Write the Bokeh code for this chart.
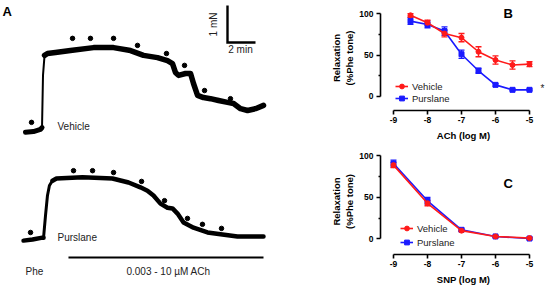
import math
from bokeh.plotting import figure
from bokeh.layouts import row, column
from bokeh.models import (Range1d, FixedTicker, Whisker, TeeHead, ColumnDataSource,
                          Label, Legend, LegendItem)
from bokeh.embed import file_html
from bokeh.resources import INLINE

FONT = "Liberation Sans"

# ---------------- Panel A: isometric tension traces (time in min, force in mN rel. to baseline)
veh_t = [0.0, 0.57, 1.07, 1.18, 1.25, 1.36, 1.57, 2.14, 3.21, 4.86, 6.29, 7.5, 8.43, 9.43,
         10.14, 10.5, 10.71, 10.93, 11.43, 11.79, 12.0, 12.29, 12.71, 13.21, 13.79, 14.43,
         14.86, 15.36, 15.86, 16.43, 17.0]
veh_f = [-0.05, -0.03, 0.03, 0.08, 1.49, 2.03, 2.08, 2.11, 2.16, 2.24, 2.24, 2.16, 2.03, 1.97,
         1.89, 1.81, 1.57, 1.49, 1.54, 1.54, 1.27, 0.95, 0.89, 0.86, 0.81, 0.76,
         0.73, 0.59, 0.54, 0.59, 0.68]
veh_dot_t = [0.43, 3.36, 4.64, 6.29, 8.0, 10.07, 11.36, 12.79, 14.64]
veh_dot_f = [0.22, 2.49, 2.49, 2.49, 2.30, 2.08, 1.76, 1.08, 0.86]

pur_t = [-0.14, 0.5, 1.21, 1.29, 1.43, 1.57, 1.71, 1.93, 2.21, 4.07, 6.21, 7.36, 8.21, 8.71,
         9.14, 9.64, 10.14, 10.5, 10.86, 11.29, 12.0, 13.0, 13.93, 15.14, 17.0]
pur_f = [-0.03, 0.0, 0.05, 0.05, 0.65, 1.19, 1.46, 1.59, 1.65, 1.68, 1.65, 1.54, 1.41, 1.32,
         1.19, 0.97, 0.86, 0.84, 0.70, 0.46, 0.32, 0.19, 0.14, 0.08, 0.08]
pur_dot_t = [0.36, 3.43, 4.79, 6.29, 8.29, 9.93, 11.57, 12.64, 14.0]
pur_dot_f = [0.19, 1.86, 1.86, 1.81, 1.57, 1.05, 0.57, 0.41, 0.30]

scale_min = 2.0   # time scale bar (min)
scale_mn = 1.0    # force scale bar (mN)
ach_start_t = 3.07
ach_end_t = 17.0

# ---------------- Panel B: ACh concentration-response
ach_x = [-8.5, -8.0, -7.5, -7.0, -6.5, -6.0, -5.5, -5.0]
ach_veh = [98, 89, 76, 71, 54, 44, 38, 39]
ach_veh_err = [2, 3, 4, 5, 6, 5, 5, 3]
ach_pur = [91, 87, 79, 51, 31, 14, 8, 8]
ach_pur_err = [4, 4, 5, 5, 3, 1.5, 1, 1]

# ---------------- Panel C: SNP concentration-response
snp_x = [-9.0, -8.0, -7.0, -6.0, -5.0]
snp_veh = [89, 43, 10, 3, 1]
snp_veh_err = [3, 3, 1, 1, 1]
snp_pur = [91, 46, 11, 3, 0.5]
snp_pur_err = [4, 4, 1.5, 1, 1]

x_ticks = [-9, -8, -7, -6, -5]
y_ticks = [0, 50, 100]
y_minor = [25, 75]

RED = "#ff1a1a"
BLUE = "#1a1aff"

# ================= Panel A figure =================
PXM = 14.0   # px per minute
PXN = 37.0   # px per mN
HA = 287
pa = figure(width=280, height=HA, x_range=Range1d(0, 280 / PXM), y_range=Range1d(0, HA / PXN),
            toolbar_location=None, output_backend="svg", min_border=0)
pa.axis.visible = False
pa.grid.visible = False
pa.outline_line_color = None


def ax(xp):
    return xp / PXM


def ay(yp):
    return (HA - yp) / PXN


veh_x0, veh_y0 = ax(25), ay(130)
pur_x0, pur_y0 = ax(25), ay(239)


def trace(t, f, x0, y0, segs):
    xs = [x0 + v for v in t]
    ys = [y0 + v for v in f]
    for a, b, w in segs:
        pa.line(xs[a:b], ys[a:b], line_width=w, color="black", line_join="round",
                line_cap="round")


# baseline (thick), fast rise (thin), contraction / relaxation (thick)
trace(veh_t, veh_f, veh_x0, veh_y0, [(0, 4, 5.0), (3, 6, 2.0), (5, len(veh_t), 5.5)])
trace(pur_t, pur_f, pur_x0, pur_y0, [(0, 4, 4.5), (3, 8, 3.0), (7, len(pur_t), 4.5)])
pa.scatter([veh_x0 + t for t in veh_dot_t], [veh_y0 + f for f in veh_dot_f], size=4.5,
           color="black")
pa.scatter([pur_x0 + t for t in pur_dot_t], [pur_y0 + f for f in pur_dot_f], size=4.5,
           color="black")

# scale bar
sx0, sy0 = ax(227), ay(42)
pa.line([sx0, sx0, sx0 + scale_min], [sy0 + scale_mn, sy0, sy0], line_width=2.4,
        color="black", line_join="miter")
# ACh bar
pa.line([veh_x0 + ach_start_t, veh_x0 + ach_end_t], [ay(257), ay(257)], line_width=2.2,
        color="black")

txt = dict(text_font=FONT, text_color="#222222", text_font_size="10px", text_baseline="middle")
pa.add_layout(Label(x=ax(57), y=ay(126), text="Vehicle", **txt))
pa.add_layout(Label(x=ax(57), y=ay(237), text="Purslane", **txt))
pa.add_layout(Label(x=ax(25), y=ay(271), text="Phe", **txt))
pa.add_layout(Label(x=ax(168), y=ay(271), text="0.003 - 10 \u00b5M ACh", text_align="center", **txt))
pa.add_layout(Label(x=ax(240), y=ay(49), text="2 min", text_align="center", **txt))
pa.add_layout(Label(x=ax(213), y=ay(24), text="1 mN", text_align="center", angle=math.pi / 2, **txt))
pa.add_layout(Label(x=ax(2), y=ay(3), text="A", text_font=FONT, text_font_style="bold",
                    text_font_size="13px", text_baseline="top", text_color="black"))


# ================= Panels B and C =================
def curve_panel(height, xs, veh, veh_err, pur, pur_err, xlabel, top_pad, bottom_pad,
                y0_px, y100_px, axis_px, legend_loc, legend_spacing, letter, letter_y, star):
    ppx = 34.0
    ppy = (y0_px - y100_px) / 100.0
    frame_top = top_pad
    xs_start = -9 - 13 / ppx
    xs_end = xs_start + 166 / ppx
    y_start = -(axis_px - y0_px) / ppy
    y_end = 100 + (y100_px - frame_top) / ppy
    p = figure(width=266, height=height, x_range=Range1d(xs_start, xs_end),
               y_range=Range1d(y_start, y_end), toolbar_location=None, output_backend="svg",
               min_border_left=100, min_border_right=0, min_border_top=top_pad,
               min_border_bottom=bottom_pad)
    p.grid.visible = False
    p.outline_line_color = None
    p.xaxis.bounds = (-9, -5)
    p.yaxis.bounds = (0, 100)
    p.xaxis.ticker = FixedTicker(ticks=x_ticks, minor_ticks=[])
    p.yaxis.ticker = FixedTicker(ticks=y_ticks, minor_ticks=y_minor)
    p.xaxis.major_label_overrides = {t: str(t) for t in x_ticks}
    for a in (p.xaxis[0], p.yaxis[0]):
        a.axis_line_width = 1.6
        a.major_tick_line_width = 1.6
        a.minor_tick_line_width = 1.4
        a.major_tick_out = 4
        a.major_tick_in = 0
        a.minor_tick_out = 2
        a.minor_tick_in = 0
        a.major_label_text_font = FONT
        a.major_label_text_font_style = "bold"
        a.major_label_text_font_size = "8.5px"
        a.major_label_text_color = "black"
        a.axis_label_text_font = FONT
        a.axis_label_text_font_style = "bold"
        a.axis_label_text_font_size = "9.5px"
        a.axis_label_text_color = "black"
    p.xaxis.major_label_standoff = 2
    p.yaxis.major_label_standoff = 3
    p.xaxis.axis_label = xlabel
    p.xaxis.axis_label_standoff = 4
    p.yaxis.axis_label = "Relaxation\n(%Phe tone)"
    p.yaxis.axis_label_standoff = 1

    rends = []
    for ys, es, col, mk in ((pur, pur_err, BLUE, "square"), (veh, veh_err, RED, "circle")):
        src = ColumnDataSource(dict(x=xs, y=ys, lo=[v - e for v, e in zip(ys, es)],
                                    hi=[v + e for v, e in zip(ys, es)]))
        p.add_layout(Whisker(source=src, base="x", lower="lo", upper="hi", line_color=col,
                             line_width=1.4,
                             lower_head=TeeHead(size=6, line_color=col, line_width=1.4),
                             upper_head=TeeHead(size=6, line_color=col, line_width=1.4)))
        l = p.line("x", "y", source=src, color=col, line_width=1.6)
        m = p.scatter("x", "y", source=src, marker=mk, size=5, color=col)
        rends.append((l, m))
    items = [LegendItem(label="Vehicle", renderers=list(rends[1])),
             LegendItem(label="Purslane", renderers=list(rends[0]))]
    leg = Legend(items=items, location=legend_loc, background_fill_alpha=0,
                 border_line_alpha=0, padding=0, margin=0, spacing=legend_spacing,
                 glyph_width=13, glyph_height=12, label_height=12, label_standoff=4,
                 label_text_font=FONT, label_text_font_size="9.5px",
                 label_text_color="#222222")
    p.add_layout(leg)
    p.add_layout(Label(x=xs_start + (503 - 380) / ppx, y=letter_y, text=letter, text_font=FONT,
                       text_font_style="bold", text_font_size="13px", text_baseline="top",
                       text_color="black"))
    if star:
        p.add_layout(Label(x=xs_start + (540 - 380) / ppx, y=(y0_px - 90) / ppy, text="*",
                           text_font=FONT, text_font_size="10px", text_baseline="middle",
                           text_color="#222222"))
    return p


pb = curve_panel(143, ach_x, ach_veh, ach_veh_err, ach_pur, ach_pur_err, "ACh (log M)",
                 top_pad=5, bottom_pad=31, y0_px=97.7, y100_px=13.3, axis_px=112,
                 legend_loc=(15, 6), legend_spacing=0, letter="B",
                 letter_y=100 + (13.3 - 6) / ((97.7 - 13.3) / 100), star=True)
pc = curve_panel(144, snp_x, snp_veh, snp_veh_err, snp_pur, snp_pur_err, "SNP (log M)",
                 top_pad=5, bottom_pad=30, y0_px=241 - 143, y100_px=155.7 - 143,
                 axis_px=257 - 143, legend_loc=(20, 6), legend_spacing=2, letter="C",
                 letter_y=(241 - 176) / 0.853, star=False)

layout = row(pa, column(pb, pc, spacing=0), spacing=0)
open("out.html", "w").write(file_html(layout, INLINE))
